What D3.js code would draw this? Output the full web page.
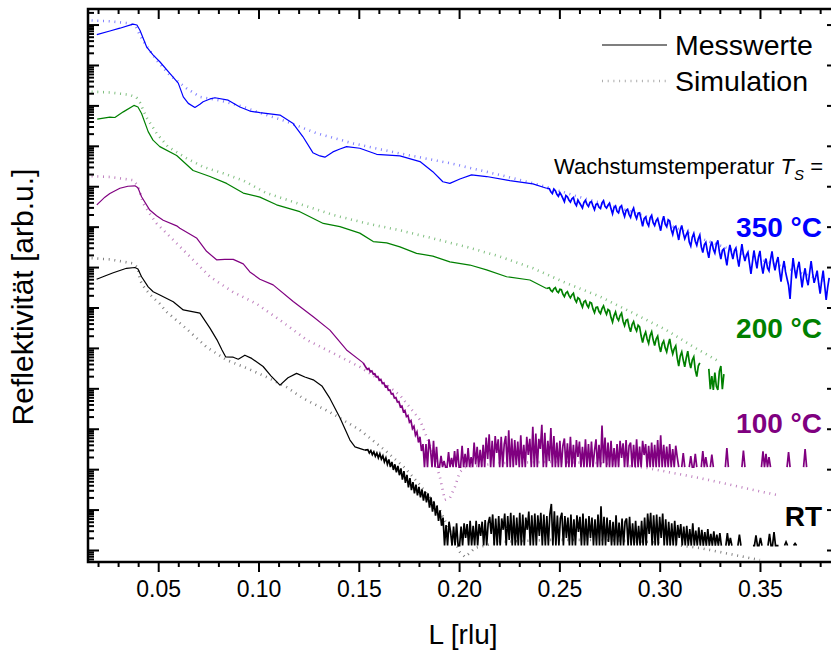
<!DOCTYPE html>
<html>
<head>
<meta charset="utf-8">
<script src="https://cdn.jsdelivr.net/npm/d3@7/dist/d3.min.js"></script>
<style>
  body { margin: 0; background: #fff; }
  svg { display: block; }
  text { font-family: "Liberation Sans", Arial, Helvetica, sans-serif; fill: #000; }
</style>
</head>
<body>
<svg id="chart" width="831" height="652"></svg>
<script>
// ---- axis definitions -------------------------------------------------
const xTickValues = [0.05, 0.10, 0.15, 0.20, 0.25, 0.30, 0.35];
const xTickLabels = ["0.05", "0.10", "0.15", "0.20", "0.25", "0.30", "0.35"];
const xLimits = [0.015, 0.3889];
const yLimitsLog10 = [-0.297, 13.385];   // reflectivity, arbitrary units (log10)

// ---- measured curves: smooth low-L part as [L, log10 R] ---------------
const blueMeas = [[0.0194,12.75],[0.0259,12.84],[0.0309,12.91],[0.0374,13.01],[0.0394,12.99],[0.0409,12.86],[0.0442,12.45],[0.0474,12.25],[0.0508,12.08],[0.0558,11.79],[0.0600,11.55],[0.0625,11.21],[0.0650,11.05],[0.0683,10.95],[0.0708,11.03],[0.0724,11.09],[0.0758,11.16],[0.0783,11.19],[0.0849,11.13],[0.0907,10.96],[0.0957,10.86],[0.1007,10.82],[0.1107,10.76],[0.1171,10.56],[0.1221,10.23],[0.1271,9.83],[0.1306,9.75],[0.1331,9.72],[0.1371,9.85],[0.1406,9.92],[0.1439,9.98],[0.1505,9.94],[0.1589,9.79],[0.1705,9.75],[0.1805,9.61],[0.1869,9.36],[0.1919,9.11],[0.1954,9.07],[0.2004,9.18],[0.2062,9.28],[0.2137,9.24],[0.2253,9.14],[0.2368,9.06],[0.2436,8.95]];
const greenMeas = [[0.0196,10.66],[0.0259,10.71],[0.0284,10.70],[0.0326,10.84],[0.0379,11.00],[0.0399,10.96],[0.0417,10.80],[0.0450,10.35],[0.0474,10.14],[0.0508,9.98],[0.0592,9.76],[0.0674,9.39],[0.0758,9.24],[0.0841,9.07],[0.0924,8.83],[0.1007,8.73],[0.1090,8.54],[0.1206,8.37],[0.1323,8.08],[0.1406,8.00],[0.1505,7.84],[0.1572,7.63],[0.1639,7.60],[0.1705,7.50],[0.1788,7.34],[0.1869,7.27],[0.1954,7.13],[0.2054,7.05],[0.2137,6.93],[0.2237,6.76],[0.2353,6.68],[0.2436,6.47]];
const purpleMeas = [[0.0194,8.54],[0.0234,8.73],[0.0259,8.82],[0.0309,8.95],[0.0349,9.00],[0.0384,9.01],[0.0399,8.96],[0.0417,8.74],[0.0458,8.41],[0.0492,8.27],[0.0525,8.16],[0.0592,8.02],[0.0608,7.96],[0.0691,7.72],[0.0741,7.39],[0.0791,7.18],[0.0832,7.19],[0.0874,7.19],[0.0924,7.08],[0.0957,6.88],[0.1007,6.70],[0.1073,6.56],[0.1173,6.15],[0.1273,5.77],[0.1356,5.44],[0.1439,4.95],[0.1522,4.63]];
const blackMeas = [[0.0193,6.70],[0.0234,6.78],[0.0276,6.86],[0.0342,6.97],[0.0384,6.99],[0.0399,6.95],[0.0417,6.76],[0.0450,6.51],[0.0475,6.39],[0.0508,6.31],[0.0575,6.14],[0.0625,5.94],[0.0708,5.86],[0.0758,5.49],[0.0793,5.20],[0.0818,4.95],[0.0836,4.78],[0.0874,4.77],[0.0899,4.72],[0.0932,4.82],[0.0966,4.74],[0.1023,4.54],[0.1062,4.31],[0.1107,4.08],[0.1147,4.26],[0.1190,4.37],[0.1231,4.28],[0.1273,4.21],[0.1316,4.06],[0.1356,3.75],[0.1406,3.27],[0.1456,2.72],[0.1481,2.55],[0.1530,2.47]];

// ---- measured curves: noisy high-L tails on the scan grid --------------
// (null = zero counts, not shown on the log axis)
const scanStep = 0.00075;
const blueTailStart = 0.245;
const blueTail = [
  8.94,8.86,8.82,8.93,8.89,8.80,8.75,8.84,8.78,8.70, 8.62,8.77,8.74,8.66,8.61,8.69,8.72,8.58,8.52,8.66,
  8.59,8.53,8.46,8.60,8.65,8.55,8.50,8.60,8.62,8.51, 8.42,8.55,8.57,8.48,8.45,8.59,8.64,8.50,8.46,8.53,
  8.58,8.44,8.32,8.47,8.51,8.38,8.34,8.48,8.52,8.36, 8.25,8.40,8.43,8.30,8.23,8.38,8.46,8.29,8.20,8.33,
  8.34,8.18,8.01,8.20,8.24,8.09,8.02,8.22,8.28,8.10, 8.03,8.15,8.20,8.05,7.90,8.12,8.26,8.06,8.00,8.17,
  8.14,7.93,7.81,7.98,8.01,7.85,7.67,7.91,8.03,7.84, 7.70,7.80,7.88,7.62,7.52,7.74,7.83,7.64,7.54,7.70,
  7.79,7.50,7.36,7.55,7.61,7.40,7.23,7.50,7.63,7.44, 7.35,7.56,7.66,7.38,7.20,7.41,7.45,7.25,7.04,7.33,
  7.55,7.36,7.20,7.40,7.47,7.22,7.01,7.30,7.57,7.31, 7.15,7.30,7.37,7.10,6.83,7.12,7.41,7.18,6.97,7.25,
  7.40,7.05,6.84,7.08,7.21,6.98,6.91,7.18,7.39,7.10, 6.92,7.12,7.25,6.90,6.64,6.95,7.15,6.88,6.71,6.55,
  6.21,6.80,7.22,6.95,6.72,6.98,7.13,6.80,6.50,6.78, 6.97,6.70,6.55,6.86,7.15,6.85,6.61,6.75,6.91,6.60,
  6.34,6.66,6.91,6.55,6.19,6.50,6.73];
const greenTailStart = 0.245;
const greenTail = [
  6.49,6.42,6.39,6.46,6.49,6.40,6.37,6.45,6.44,6.33, 6.27,6.36,6.39,6.30,6.24,6.31,6.35,6.20,6.13,6.24,
  6.21,6.10,6.01,6.14,6.17,6.06,6.00,6.13,6.11,5.96, 5.87,6.00,6.01,5.90,5.85,5.97,6.04,5.92,5.83,5.95,
  5.92,5.75,5.64,5.80,5.89,5.74,5.68,5.80,5.86,5.66, 5.55,5.68,5.70,5.52,5.40,5.58,5.65,5.50,5.42,5.56,
  5.52,5.30,5.13,5.30,5.39,5.22,5.11,5.31,5.40,5.20, 5.06,5.22,5.29,5.05,4.90,5.10,5.17,5.00,4.90,5.08,
  5.22,5.00,4.85,4.98,5.05,4.75,4.55,4.80,4.90,4.70, 4.53,4.75,4.92,4.66,4.50,4.70,4.78,4.45,4.29,4.55,
  4.63,null,null,null,null,null,4.48,3.98,4.30,3.96, 4.39,4.05,3.96,4.42,4.55,3.98,4.35];
const purpleTailStart = 0.1535;
const purpleTail = [
  4.52,4.47,4.49,4.41,4.43,4.35,4.36,4.28,4.29,4.20, 4.22,4.12,4.13,4.04,4.06,3.95,3.96,3.86,3.87,3.76,
  3.77,3.66,3.67,3.54,3.56,3.42,3.45,3.30,3.33,3.16, 3.20,3.00,3.06,2.84,2.92,2.66,2.80,2.45,2.62,
  2.05,2.62,2.05,2.74,2.48,2.05,2.70,2.05,2.55,2.05, 2.05,2.33,2.05,2.20,2.05,2.05,2.42,2.05,2.28,2.05,
  2.45,2.05,2.50,2.05,2.05,2.58,2.05,2.38,2.05,2.52, 2.05,2.30,2.05,2.66,2.12,2.55,2.05,2.48,2.05,2.60,
  2.05,2.78,2.25,2.86,2.05,2.70,2.05,2.82,2.40,2.74, 2.05,2.80,2.05,2.62,2.82,2.05,2.96,2.05,2.76,2.05,
  2.72,2.10,2.68,2.05,2.84,2.05,2.60,2.05,2.80,2.35, 2.75,2.05,3.05,2.05,2.88,2.05,2.75,2.50,3.10,2.05,
  2.90,2.05,2.70,2.20,3.02,2.05,2.82,2.05,2.66,2.05, 2.70,2.05,2.58,2.76,2.05,2.64,2.05,2.80,2.05,2.60,
  2.05,2.72,2.30,2.68,2.05,2.55,2.05,2.74,2.05,2.62, 2.05,2.68,2.05,2.45,2.74,2.05,2.60,2.05,3.08,2.15,
  2.78,2.05,2.66,2.05,2.70,2.05,2.52,2.05,2.62,2.05, 2.70,2.28,2.64,2.05,2.72,2.05,2.58,2.66,2.05,2.60,
  2.05,2.74,2.05,2.56,2.05,2.70,2.35,2.62,2.05,2.58, 2.05,2.66,2.05,2.60,2.05,2.72,2.05,2.84,2.05,2.60,
  2.05,2.56,2.05,2.62,2.05,2.50,2.05,2.58,2.30,2.05,
  null,2.05,2.40,2.05,null,null,2.05,2.32,2.05,2.05, 2.38,2.05,null,null,2.05,2.45,2.05,2.30,2.05,null,
  2.05,2.36,2.05,null,null,null,null,null,null,null, 2.05,2.52,2.05,null,null,null,null,null,null,null,
  null,2.05,2.46,2.05,null,null,null,null,null,null, null,null,null,null,2.05,2.44,2.05,2.38,2.05,2.30,
  2.05,null,null,null,null,null,null,null,null,null, null,2.05,2.42,2.05,null,null,null,null,null,null,
  null,null,2.05,2.50,2.05];
const blackTailStart = 0.1545;
const blackTail = [
  2.48,2.40,2.46,2.36,2.43,2.32,2.40,2.28,2.38,2.25, 2.33,2.18,2.28,2.12,2.24,2.05,2.18,1.98,2.12,1.92,
  2.08,1.85,2.02,1.74,1.95,1.66,1.86,1.55,1.78,1.48, 1.68,1.40,1.62,1.35,1.56,1.30,1.50,1.22,1.45,1.18,
  1.40,1.05,1.30,0.95,1.20,0.85,1.10,0.72,0.98,0.60, 0.80,
  0.11,0.62,0.11,0.70,0.45,0.11,0.58,0.11,0.66,0.11, 0.11,0.58,0.11,0.66,0.30,0.64,0.11,0.72,0.11,0.60,
  0.11,0.72,0.11,0.64,0.35,0.70,0.11,0.74,0.11,0.66, 0.82,0.40,0.88,0.11,0.78,0.11,0.84,0.11,0.78,0.50,
  0.90,0.11,0.84,0.25,0.92,0.11,0.86,0.11,0.80,0.11, 0.92,0.11,0.88,0.11,0.80,0.50,0.95,0.11,0.86,0.11,
  0.90,0.11,0.86,0.35,0.92,0.11,0.88,0.11,0.84,0.11, 0.88,1.14,0.11,0.96,0.11,0.85,0.11,0.78,0.92,0.11,
  0.84,0.30,0.80,0.11,0.88,0.11,0.76,0.11,0.86,0.45, 0.82,0.11,0.90,0.11,0.78,0.11,0.84,0.30,0.80,0.11,
  0.76,0.11,0.88,0.11,1.08,0.11,0.82,0.11,0.80,0.20, 0.74,0.11,0.70,0.11,0.86,0.11,0.68,0.11,0.78,0.11,
  0.70,0.78,0.11,0.82,0.11,0.66,0.11,0.72,0.11,0.60, 0.11,0.72,0.11,0.80,0.11,0.90,0.40,0.92,0.11,0.86,
  0.11,0.88,0.11,0.82,0.30,0.90,0.11,0.76,0.11,0.70, 0.11,0.66,0.11,0.72,0.11,0.62,0.30,0.64,0.11,0.58,
  0.11,0.60,0.11,0.52,0.11,0.66,0.11,0.48,0.11,0.56, 0.11,0.50,0.11,0.44,0.11,0.52,0.11,0.40,0.11,0.46,
  0.11,0.38,0.11,0.42,0.11,
  null,null,0.11,0.42,0.11,0.30,0.11,null,null,null, 0.11,0.38,0.11,null,null,null,null,null,null,null,
  0.11,0.11,0.36,0.11,0.11,0.30,0.11,null,null,null, 0.11,0.40,0.11,0.11,0.44,0.11,0.11,0.11,null,null,
  null,0.11,0.20,0.11,null,null,null,0.11,0.16,0.11];

// ---- simulated curves as [L, log10 R] ----------------------------------
const blueSim = [[0.0168,13.10],[0.0259,13.08],[0.0359,13.03],[0.0389,12.94],[0.0417,12.66],[0.0449,12.42],[0.0492,12.12],[0.0558,11.75],[0.0642,11.42],[0.0708,11.21],[0.0808,11.12],[0.0922,10.97],[0.0991,10.84],[0.1140,10.60],[0.1290,10.31],[0.1471,10.06],[0.1705,9.81],[0.1954,9.57],[0.2203,9.28],[0.2403,9.03],[0.2602,8.73],[0.2802,8.46],[0.3001,8.14],[0.3200,7.72],[0.3400,7.35],[0.3599,7.03],[0.3839,6.63]];
const greenSim = [[0.0168,11.34],[0.0259,11.32],[0.0359,11.26],[0.0392,11.19],[0.0409,11.07],[0.0442,10.70],[0.0492,10.31],[0.0548,9.98],[0.0642,9.69],[0.0724,9.48],[0.0824,9.32],[0.0924,9.14],[0.1040,8.83],[0.1206,8.56],[0.1372,8.29],[0.1539,8.08],[0.1705,7.91],[0.1869,7.71],[0.2037,7.50],[0.2203,7.26],[0.2369,6.97],[0.2536,6.60],[0.2702,6.27],[0.2868,5.86],[0.3034,5.44],[0.3167,5.03],[0.3300,4.65]];
const purpleSim = [[0.0168,9.25],[0.0259,9.23],[0.0375,9.15],[0.0399,9.01],[0.0425,8.58],[0.0459,8.31],[0.0492,8.08],[0.0575,7.67],[0.0658,7.26],[0.0758,6.76],[0.0874,6.38],[0.0991,6.09],[0.1107,5.69],[0.1240,5.20],[0.1372,4.87],[0.1505,4.53],[0.1605,4.21],[0.1705,3.83],[0.1805,3.22],[0.1864,2.47],[0.1904,1.81],[0.1929,1.24],[0.1954,1.29],[0.1979,1.56],[0.2004,1.93],[0.2029,2.05],[0.2203,2.15],[0.2453,2.18],[0.2702,2.15],[0.2936,2.03],[0.3200,1.78],[0.3400,1.56],[0.3584,1.36]];
const blackSim = [[0.0168,7.22],[0.0259,7.19],[0.0375,7.09],[0.0399,6.98],[0.0409,6.68],[0.0425,6.53],[0.0459,6.32],[0.0508,6.09],[0.0542,5.89],[0.0642,5.47],[0.0741,5.02],[0.0841,4.70],[0.0941,4.50],[0.1040,4.28],[0.1140,4.03],[0.1223,3.75],[0.1356,3.41],[0.1505,2.97],[0.1630,2.47],[0.1730,2.03],[0.1805,1.61],[0.1904,0.99],[0.1964,0.37],[0.2004,-0.05],[0.2029,-0.17],[0.2054,-0.07],[0.2079,0.05],[0.2203,0.20],[0.2453,0.25],[0.2702,0.25],[0.2951,0.20],[0.3200,0.05],[0.3350,-0.10],[0.3500,-0.25]];

// ---- series labels ------------------------------------------------------
const seriesLabels = ["350 °C", "200 °C", "100 °C", "RT"];
const legendLabels = ["Messwerte", "Simulation"];

// =========================================================================
const colors = ["#0000ff", "#008000", "#800080", "#000000"];
const plot = { left: 88, right: 838, top: 9, bottom: 562 };

const svg = d3.select("#chart");

const x = d3.scaleLinear().domain(xLimits).range([plot.left, plot.right]);
const y = d3.scaleLog()
  .domain([Math.pow(10, yLimitsLog10[0]), Math.pow(10, yLimitsLog10[1])])
  .range([plot.bottom, plot.top]);

function withGrid(start, vals) {
  return vals.map((v, i) => [start + i * scanStep, v]);
}
const smoothParts = [blueMeas, greenMeas, purpleMeas, blackMeas];
const tailParts = [
  withGrid(blueTailStart, blueTail),
  withGrid(greenTailStart, greenTail),
  withGrid(purpleTailStart, purpleTail),
  withGrid(blackTailStart, blackTail)
];
// each tail starts from the last smooth point so the curve stays continuous
const tails = tailParts.map((t, i) => [smoothParts[i][smoothParts[i].length - 1]].concat(t));
const simulated = [blueSim, greenSim, purpleSim, blackSim];

const line = d3.line()
  .defined(d => d[1] !== null)
  .x(d => x(d[0]))
  .y(d => y(Math.pow(10, d[1])));

svg.append("clipPath").attr("id", "plotClip")
  .append("rect")
  .attr("x", plot.left).attr("y", plot.top)
  .attr("width", plot.right - plot.left).attr("height", plot.bottom - plot.top);

const g = svg.append("g").attr("clip-path", "url(#plotClip)");

// simulations (dotted)
g.selectAll("path.sim").data(simulated).join("path")
  .attr("class", "sim")
  .attr("d", line)
  .attr("fill", "none")
  .attr("stroke", (d, i) => colors[i])
  .attr("stroke-opacity", 0.5)
  .attr("stroke-width", 2.6)
  .attr("stroke-dasharray", "1 4.7");

// measurements (solid)
g.selectAll("path.meas").data(smoothParts).join("path")
  .attr("class", "meas")
  .attr("d", line)
  .attr("fill", "none")
  .attr("stroke", (d, i) => colors[i])
  .attr("stroke-width", 1.2)
  .attr("stroke-linejoin", "round");
g.selectAll("path.tail").data(tails).join("path")
  .attr("class", "tail")
  .attr("d", line)
  .attr("fill", "none")
  .attr("stroke", (d, i) => colors[i])
  .attr("stroke-width", 1.7)
  .attr("stroke-linejoin", "miter");

// ---- axes -------------------------------------------------------------
const xMinor = d3.range(2, 39).map(k => k / 100).filter(v => Math.round(v * 100) % 5 !== 0);
const yMajor = d3.range(0, 14).map(k => Math.pow(10, k));
const yMinor = [];
d3.range(-1, 14).forEach(k => {
  d3.range(2, 10).forEach(j => {
    const v = j * Math.pow(10, k);
    const lv = Math.log10(v);
    if (lv > yLimitsLog10[0] && lv < yLimitsLog10[1]) yMinor.push(v);
  });
});

function styleAxis(sel) {
  sel.select(".domain").remove();
  sel.selectAll(".tick line").attr("stroke", "#000").attr("stroke-width", 2);
}

// bottom
svg.append("g").attr("transform", `translate(0,${plot.bottom})`)
  .call(d3.axisBottom(x).tickValues(xTickValues).tickSize(10).tickPadding(9)
    .tickFormat((d, i) => xTickLabels[i]))
  .call(styleAxis)
  .call(s => s.selectAll("text").attr("font-size", 23).attr("font-family", "Liberation Sans, Arial, sans-serif").attr("fill", "#000"));
svg.append("g").attr("transform", `translate(0,${plot.bottom})`)
  .call(d3.axisBottom(x).tickValues(xMinor).tickSize(5).tickFormat(""))
  .call(styleAxis);
// top
svg.append("g").attr("transform", `translate(0,${plot.top})`)
  .call(d3.axisBottom(x).tickValues(xTickValues).tickSize(10).tickFormat(""))
  .call(styleAxis);
svg.append("g").attr("transform", `translate(0,${plot.top})`)
  .call(d3.axisBottom(x).tickValues(xMinor).tickSize(5).tickFormat(""))
  .call(styleAxis);
// left
svg.append("g").attr("transform", `translate(${plot.left},0)`)
  .call(d3.axisRight(y).tickValues(yMajor).tickSize(11).tickFormat(""))
  .call(styleAxis);
svg.append("g").attr("transform", `translate(${plot.left},0)`)
  .call(d3.axisRight(y).tickValues(yMinor).tickSize(6).tickFormat(""))
  .call(styleAxis);
// right
svg.append("g").attr("transform", `translate(${plot.right},0)`)
  .call(d3.axisLeft(y).tickValues(yMajor).tickSize(11).tickFormat(""))
  .call(styleAxis);
svg.append("g").attr("transform", `translate(${plot.right},0)`)
  .call(d3.axisLeft(y).tickValues(yMinor).tickSize(6).tickFormat(""))
  .call(styleAxis);

// frame
svg.append("rect")
  .attr("x", plot.left).attr("y", plot.top)
  .attr("width", plot.right - plot.left).attr("height", plot.bottom - plot.top)
  .attr("fill", "none").attr("stroke", "#000").attr("stroke-width", 2.5);

// ---- axis titles ------------------------------------------------------
svg.append("text")
  .attr("x", (plot.left + plot.right) / 2).attr("y", 644)
  .attr("text-anchor", "middle").attr("font-size", 28)
  .text("L [rlu]");
svg.append("text")
  .attr("transform", "translate(33,297) rotate(-90)")
  .attr("text-anchor", "middle").attr("font-size", 30)
  .text("Reflektivität [arb.u.]");

// ---- legend ------------------------------------------------------------
const legendY = [45, 81];
svg.append("line").attr("x1", 602).attr("x2", 667).attr("y1", legendY[0]).attr("y2", legendY[0])
  .attr("stroke", "#555").attr("stroke-width", 1.4);
svg.append("line").attr("x1", 602).attr("x2", 667).attr("y1", legendY[1]).attr("y2", legendY[1])
  .attr("stroke", "#777").attr("stroke-opacity", 0.6).attr("stroke-width", 2.6).attr("stroke-dasharray", "1 4.7");
legendLabels.forEach((t, i) => {
  svg.append("text").attr("x", 675).attr("y", legendY[i] + 10)
    .attr("font-size", 28.5).text(t);
});

// ---- growth temperature labels ------------------------------------------
const ts = svg.append("text").attr("x", 823).attr("y", 174)
  .attr("text-anchor", "end").attr("font-size", 22);
ts.append("tspan").text("Wachstumstemperatur ");
ts.append("tspan").attr("font-style", "italic").text("T");
ts.append("tspan").attr("font-style", "italic").attr("font-size", 15).attr("dy", 6).text("S");
ts.append("tspan").attr("dy", -6).text(" =");

const labelY = [237, 338, 432.5, 526];
seriesLabels.forEach((t, i) => {
  svg.append("text").attr("x", 822).attr("y", labelY[i])
    .attr("text-anchor", "end").attr("font-size", 28).attr("font-weight", "bold")
    .style("fill", colors[i]).text(t);
});
</script>
</body>
</html>
